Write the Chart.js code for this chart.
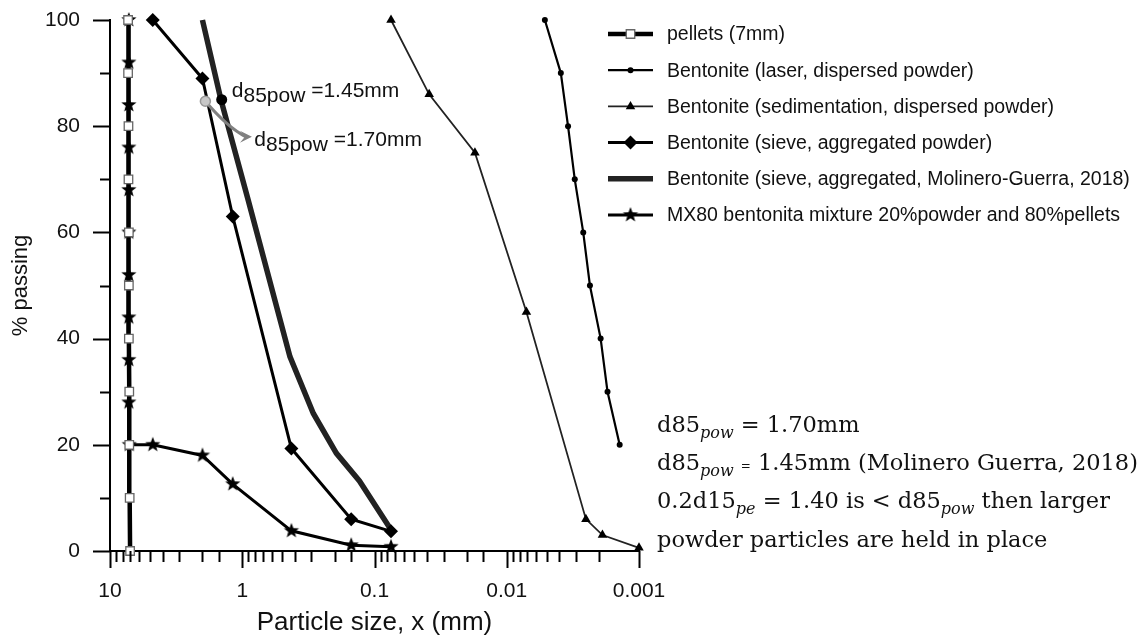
<!DOCTYPE html>
<html>
<head>
<meta charset="utf-8">
<script src="https://cdn.jsdelivr.net/npm/chart.js@4.4.1/dist/chart.umd.min.js"></script>
<style>
html,body{margin:0;padding:0;background:#fff;}
</style>
</head>
<body>
<canvas id="c" width="1145" height="637"></canvas>
<script>
// ---- data (x = particle size mm, y = % passing) ----
const pelletSize = [7.05, 7.1, 7.15, 7.15, 7.2, 7.2, 7.2, 7.25, 7.25, 7.3, 7.3]
const pelletPass = [0, 10, 20, 30, 40, 50, 60, 70, 80, 90, 100]

const laserSize = [0.00515, 0.0039, 0.00344, 0.00306, 0.00264, 0.00235, 0.00195, 0.00173, 0.0014]
const laserPass = [100, 90, 80, 70, 60, 50, 40, 30, 20]

const sedSize = [0.075, 0.0386, 0.0174, 0.0071, 0.00252, 0.00189, 0.001]
const sedPass = [100, 86, 75, 45, 6, 3, 0.6]

const sieveSize = [4.75, 2.0, 1.18, 0.425, 0.15, 0.075]
const sievePass = [100, 89, 63, 19.3, 6, 3.7]

const moliSize = [2.0, 1.45, 0.9, 0.436, 0.29, 0.194, 0.13, 0.075]
const moliPass = [100, 85, 66, 36.6, 25.9, 18.4, 13.2, 4]

const mixSize = [7.2, 7.2, 7.2, 7.2, 7.2, 7.2, 7.2, 7.2, 7.2, 7.2, 7.15, 4.75, 2.0, 1.18, 0.425, 0.15, 0.075]
const mixPass = [100, 92, 84, 76, 68, 60, 52, 44, 36, 28, 20, 20, 18, 12.6, 3.8, 1.1, 0.8]

const seriesNames = [
  "pellets (7mm)",
  "Bentonite (laser, dispersed powder)",
  "Bentonite (sedimentation, dispersed powder)",
  "Bentonite (sieve, aggregated powder)",
  "Bentonite (sieve, aggregated, Molinero-Guerra, 2018)",
  "MX80 bentonita mixture 20%powder and 80%pellets"
]

const xDecades = [10, 1, 0.1, 0.01, 0.001]
const xDecadeLabels = ["10", "1", "0.1", "0.01", "0.001"]

// d85 markers
const d85Grey = {x: 1.9, y: 84.7}
const d85Black = {x: 1.43, y: 85}
const arrowEnd = {x: 0.875, y: 78}

const SANS = "Arial, 'Liberation Sans', sans-serif"
const SERIF = "'DejaVu Serif', serif"

function pts(xs, ys) { return xs.map((x, i) => ({x: x, y: ys[i]})) }

// filled five point star for the MX80 markers
function makeStar(r, color) {
  const c = document.createElement("canvas")
  c.width = c.height = Math.ceil(r * 2 + 2)
  const g = c.getContext("2d")
  const cx = c.width / 2, cy = c.height / 2
  g.beginPath()
  for (let i = 0; i < 10; i++) {
    const rr = i % 2 === 0 ? r : r * 0.42
    const a = -Math.PI / 2 + i * Math.PI / 5
    g.lineTo(cx + rr * Math.cos(a), cy + rr * Math.sin(a))
  }
  g.closePath()
  g.fillStyle = color
  g.fill()
  return c
}
const starImg = makeStar(8, "#000")

const datasets = [
  {label: seriesNames[0], data: pts(pelletSize, pelletPass), borderColor: "#000", borderWidth: 4.5,
   pointStyle: "rect", pointRadius: 6, pointBorderColor: "#666", pointBackgroundColor: "#fff", pointBorderWidth: 1.3},
  {label: seriesNames[1], data: pts(laserSize, laserPass), borderColor: "#000", borderWidth: 2.2,
   pointStyle: "circle", pointRadius: 3, pointBorderColor: "#000", pointBackgroundColor: "#000", pointBorderWidth: 0},
  {label: seriesNames[2], data: pts(sedSize, sedPass), borderColor: "#222", borderWidth: 1.8,
   pointStyle: "triangle", pointRadius: 5.5, pointBorderColor: "#000", pointBackgroundColor: "#000", pointBorderWidth: 0},
  {label: seriesNames[3], data: pts(sieveSize, sievePass), borderColor: "#000", borderWidth: 3,
   pointStyle: "rectRot", pointRadius: 7, pointBorderColor: "#000", pointBackgroundColor: "#000", pointBorderWidth: 0},
  {label: seriesNames[4], data: pts(moliSize, moliPass), borderColor: "#222", borderWidth: 5.5,
   pointRadius: 0},
  {label: seriesNames[5], data: pts(mixSize, mixPass), borderColor: "#000", borderWidth: 3,
   pointStyle: starImg, pointRadius: 8}
]
datasets.forEach(d => { d.showLine = true; d.fill = false; d.tension = 0; d.clip = false })

function drawMarker(ctx, ds, x, y) {
  if (!ds.pointRadius) return
  if (ds.pointStyle instanceof HTMLCanvasElement) {
    ctx.drawImage(ds.pointStyle, x - ds.pointStyle.width / 2, y - ds.pointStyle.height / 2)
    return
  }
  const r = ds.pointRadius
  ctx.beginPath()
  if (ds.pointStyle === "rect") {
    const s = r * Math.SQRT1_2
    ctx.rect(x - s, y - s, 2 * s, 2 * s)
  } else if (ds.pointStyle === "circle") {
    ctx.arc(x, y, r, 0, Math.PI * 2)
  } else if (ds.pointStyle === "triangle") {
    ctx.moveTo(x, y - r)
    ctx.lineTo(x + r * 0.866, y + r * 0.5)
    ctx.lineTo(x - r * 0.866, y + r * 0.5)
    ctx.closePath()
  } else if (ds.pointStyle === "rectRot") {
    ctx.moveTo(x, y - r); ctx.lineTo(x + r, y); ctx.lineTo(x, y + r); ctx.lineTo(x - r, y)
    ctx.closePath()
  }
  ctx.fillStyle = ds.pointBackgroundColor
  ctx.fill()
  if (ds.pointBorderWidth) {
    ctx.lineWidth = ds.pointBorderWidth
    ctx.strokeStyle = ds.pointBorderColor
    ctx.stroke()
  }
}

// text made of runs with their own font and baseline shift
function drawRuns(ctx, x, y, runs) {
  ctx.textBaseline = "alphabetic"
  ctx.textAlign = "left"
  for (const r of runs) {
    ctx.font = r.f
    ctx.fillText(r.t, x, y + (r.dy || 0))
    x += ctx.measureText(r.t).width
  }
}

const extras = {
  id: "extras",
  afterDraw(chart) {
    const ctx = chart.ctx
    const xs = chart.scales.x, ys = chart.scales.y
    const area = chart.chartArea
    ctx.save()
    ctx.strokeStyle = "#000"
    ctx.lineWidth = 2
    // x axis ticks, long on decades
    for (const t of xs.ticks) {
      const px = Math.round(xs.getPixelForValue(t.value)) + 0.5
      const major = xDecades.some(d => Math.abs(Math.log10(t.value) - Math.log10(d)) < 1e-6)
      ctx.beginPath()
      ctx.moveTo(px, area.bottom)
      ctx.lineTo(px, area.bottom + (major ? 17 : 11))
      ctx.stroke()
    }
    // y axis ticks, long on labelled ones
    for (const t of ys.ticks) {
      const py = Math.round(ys.getPixelForValue(t.value)) + 0.5
      const major = t.value % 20 === 0
      ctx.beginPath()
      ctx.moveTo(area.left, py)
      ctx.lineTo(area.left - (major ? 17 : 10), py)
      ctx.stroke()
    }

    // d85 markers and arrow
    const gx = xs.getPixelForValue(d85Grey.x), gy = ys.getPixelForValue(d85Grey.y)
    const ax = xs.getPixelForValue(arrowEnd.x), ay = ys.getPixelForValue(arrowEnd.y)
    ctx.strokeStyle = "#808080"
    ctx.lineWidth = 3
    ctx.beginPath()
    ctx.moveTo(gx, gy)
    ctx.quadraticCurveTo(gx + 22, gy + 26, ax - 4, ay)
    ctx.stroke()
    ctx.fillStyle = "#808080"
    ctx.beginPath()
    ctx.moveTo(ax + 2, ay)
    ctx.lineTo(ax - 10, ay - 6)
    ctx.lineTo(ax - 5, ay)
    ctx.lineTo(ax - 10, ay + 6)
    ctx.closePath()
    ctx.fill()
    ctx.beginPath()
    ctx.arc(gx, gy, 5, 0, Math.PI * 2)
    ctx.fillStyle = "#c8c8c8"
    ctx.fill()
    ctx.lineWidth = 1.5
    ctx.strokeStyle = "#999"
    ctx.stroke()
    ctx.beginPath()
    ctx.arc(xs.getPixelForValue(d85Black.x), ys.getPixelForValue(d85Black.y), 5.5, 0, Math.PI * 2)
    ctx.fillStyle = "#000"
    ctx.fill()

    ctx.fillStyle = "#111"
    const big = "21px " + SANS
    drawRuns(ctx, xs.getPixelForValue(1.2), ys.getPixelForValue(85.5), [
      {t: "d", f: big}, {t: "85pow", f: big, dy: 5}, {t: " =1.45mm", f: big}])
    drawRuns(ctx, xs.getPixelForValue(0.81), ys.getPixelForValue(76.3), [
      {t: "d", f: big}, {t: "85pow", f: big, dy: 5}, {t: " =1.70mm", f: big}])

    // legend
    const rowY = 34, rowStep = 36.2
    chart.data.datasets.forEach((ds, i) => {
      const y = rowY + i * rowStep
      ctx.strokeStyle = ds.borderColor
      ctx.lineWidth = ds.borderWidth
      ctx.beginPath()
      ctx.moveTo(608, y)
      ctx.lineTo(653, y)
      ctx.stroke()
      drawMarker(ctx, ds, 630.5, y)
      ctx.fillStyle = "#111"
      ctx.font = "19.5px " + SANS
      ctx.textBaseline = "middle"
      ctx.fillText(ds.label, 667, y + 1)
    })

    // note block
    ctx.fillStyle = "#111"
    const sf = "22.5px " + SERIF, si = "italic 16px " + SERIF
    drawRuns(ctx, 657, 432, [{t: "d85", f: sf}, {t: "pow", f: si, dy: 6}, {t: " = 1.70mm", f: sf}])
    drawRuns(ctx, 657, 470, [{t: "d85", f: sf}, {t: "pow", f: si, dy: 6}, {t: " ", f: sf}, {t: "=", f: "12px " + SERIF},
      {t: " 1.45mm (Molinero Guerra, 2018)", f: sf}])
    drawRuns(ctx, 657, 508, [{t: "0.2d15", f: sf}, {t: "pe", f: si, dy: 6}, {t: " = 1.40 is < d85", f: sf},
      {t: "pow", f: si, dy: 6}, {t: " then larger", f: sf}])
    drawRuns(ctx, 657, 547, [{t: "powder particles are held in place", f: sf}])
    ctx.restore()
  }
}

new Chart(document.getElementById("c"), {
  type: "scatter",
  data: {datasets: datasets},
  options: {
    responsive: false,
    animation: false,
    layout: {padding: {left: 0, top: 20, right: 506, bottom: 0}},
    plugins: {legend: {display: false}, tooltip: {enabled: false}},
    scales: {
      x: {
        type: "logarithmic", reverse: true, min: 0.001, max: 10,
        grid: {display: false, drawTicks: false},
        border: {display: true, color: "#000", width: 2},
        ticks: {
          autoSkip: false, maxRotation: 0, padding: 28, color: "#111",
          font: {family: SANS, size: 21},
          callback: (v) => {
            const k = xDecades.findIndex(d => Math.abs(Math.log10(v) - Math.log10(d)) < 1e-6)
            return k >= 0 ? xDecadeLabels[k] : ""
          }
        },
        title: {display: true, text: "Particle size, x (mm)", color: "#111",
          font: {family: SANS, size: 26, lineHeight: 1.1}, padding: {top: 0, bottom: 0}},
        afterFit: (s) => { s.height = 86; s.paddingLeft = 0; s.paddingRight = 0 }
      },
      y: {
        min: 0, max: 100,
        grid: {display: false, drawTicks: false},
        border: {display: true, color: "#000", width: 2},
        ticks: {
          stepSize: 10, padding: 30, color: "#111",
          font: {family: SANS, size: 21},
          callback: (v) => v % 20 === 0 ? String(v) : ""
        },
        title: {display: true, text: "% passing", color: "#111",
          font: {family: SANS, size: 22, lineHeight: 1.2}, padding: {top: 8, bottom: 0}},
        afterFit: (s) => { s.width = 110; s.paddingTop = 0; s.paddingBottom = 0 }
      }
    }
  },
  plugins: [extras]
})
</script>
</body>
</html>
